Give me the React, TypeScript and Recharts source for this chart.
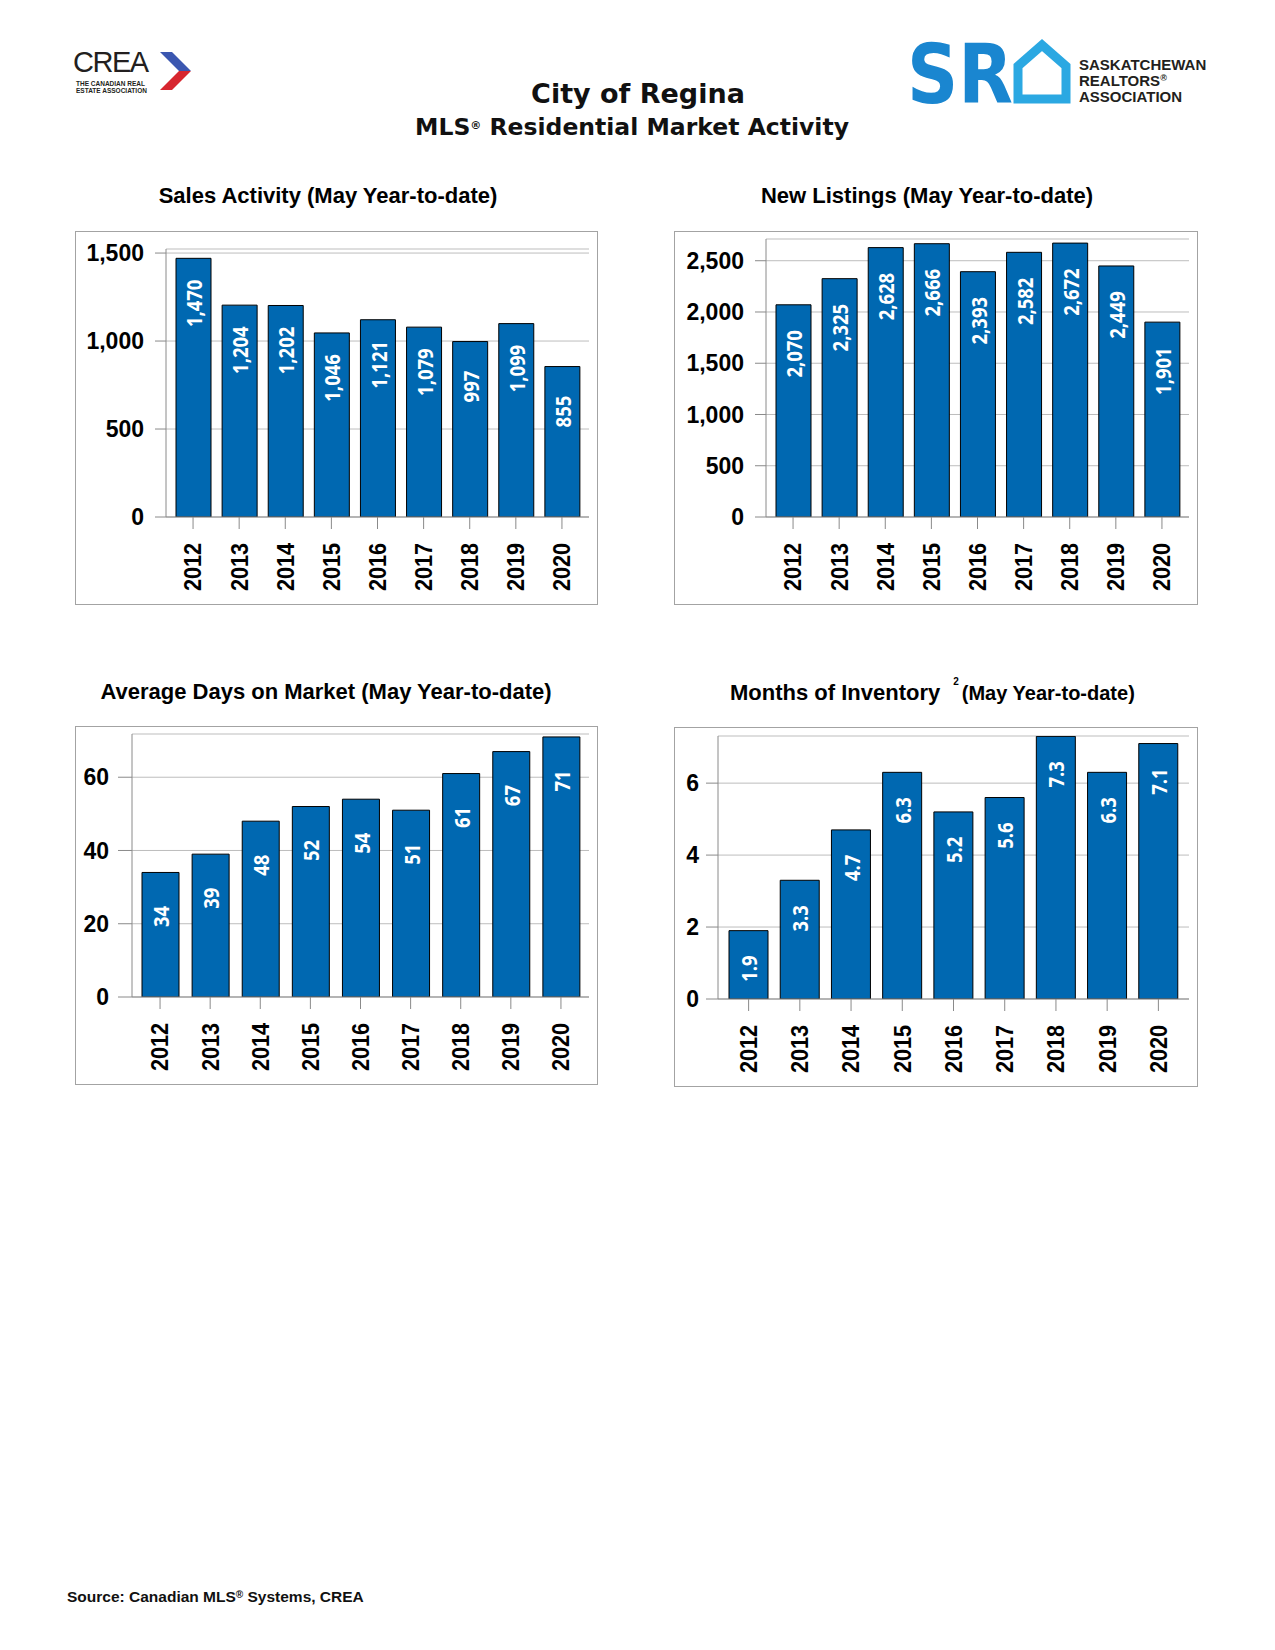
import React from 'react';
import { BarChart, Bar, XAxis, YAxis, CartesianGrid, LabelList } from 'recharts';

// MLS residential market activity, City of Regina, May year-to-date
const years = ['2012', '2013', '2014', '2015', '2016', '2017', '2018', '2019', '2020'];
const salesActivity = [1470, 1204, 1202, 1046, 1121, 1079, 997, 1099, 855];
const newListings = [2070, 2325, 2628, 2666, 2393, 2582, 2672, 2449, 1901];
const daysOnMarket = [34, 39, 48, 52, 54, 51, 61, 67, 71];
const monthsOfInventory = [1.9, 3.3, 4.7, 6.3, 5.2, 5.6, 7.3, 6.3, 7.1];

const salesTicks = [0, 500, 1000, 1500];
const listingsTicks = [0, 500, 1000, 1500, 2000, 2500];
const domTicks = [0, 20, 40, 60];
const moiTicks = [0, 2, 4, 6];

const BAR_FILL = '#0068b1';
const AXIS = '#8a8a8a';
const GRID = '#bdbdbd';
const FRAME = '#a3a3a3';
const SANS = "'Liberation Sans', Arial, sans-serif";
const LABEL_FONT = "'Open Sans', 'Noto Sans', sans-serif";

const thousands = (v: number) => v.toLocaleString('en-US');
const oneDecimal = (v: number) => v.toFixed(1);
const plain = (v: number) => String(v);

const YearTick = (props: any) => {
  const { x, y, payload } = props;
  const s = 0.9;
  return (
    <g transform={`translate(${x},${y})`}>
      <text
        transform={`rotate(-90) scale(${s},1)`}
        x={-14 / s}
        textAnchor="end"
        dominantBaseline="central"
        fontFamily={SANS}
        fontWeight={700}
        fontSize={24}
        fill="#000"
      >
        {payload.value}
      </text>
    </g>
  );
};

const makeBarLabel = (offset: number, fmt: (v: number) => string) => (props: any) => {
  const { x, y, width, value } = props;
  const cx = Number(x) + Number(width) / 2;
  const cy = Number(y) + offset;
  return (
    <text
      transform={`translate(${cx},${cy}) rotate(-90) scale(0.84,1)`}
      textAnchor="middle"
      dominantBaseline="central"
      fill="#fff"
      fontFamily={LABEL_FONT}
      fontWeight={700}
      fontSize={22}
    >
      {fmt(Number(value))}
    </text>
  );
};

interface PanelProps {
  left: number;
  top: number;
  width: number;
  height: number;
  plotTop: number;
  yAxisWidth: number;
  values: number[];
  domain: [number, number];
  ticks: number[];
  tickFmt: (v: number) => string;
  labelFmt: (v: number) => string;
  barSize: number;
  pad: number;
  labelOffset: number;
  yTickSize: number;
  yTickMargin: number;
}

function Panel(p: PanelProps) {
  const rows = years.map((year, i) => ({ year, v: p.values[i] }));
  return (
    <div style={{ position: 'absolute', left: p.left, top: p.top }}>
      <BarChart
        width={p.width}
        height={p.height}
        data={rows}
        margin={{ top: p.plotTop, right: 8, left: 0, bottom: 0 }}
        barSize={p.barSize}
      >
        <CartesianGrid vertical={false} stroke={GRID} />
        <XAxis
          dataKey="year"
          height={87}
          interval={0}
          tickSize={12}
          tickMargin={0}
          padding={{ left: p.pad, right: p.pad }}
          axisLine={{ stroke: AXIS }}
          tickLine={{ stroke: AXIS }}
          tick={(t: any) => <YearTick {...t} />}
        />
        <XAxis
          xAxisId="top"
          dataKey="year"
          orientation="top"
          height={0}
          tick={false}
          tickLine={false}
          axisLine={{ stroke: AXIS }}
        />
        <YAxis
          width={p.yAxisWidth}
          domain={p.domain}
          ticks={p.ticks}
          allowDataOverflow
          tickSize={p.yTickSize}
          tickMargin={p.yTickMargin}
          tickFormatter={p.tickFmt}
          axisLine={{ stroke: AXIS }}
          tickLine={{ stroke: AXIS }}
          tick={{ fontFamily: SANS, fontWeight: 700, fontSize: 23, fill: '#000' }}
        />
        <YAxis
          yAxisId="right"
          orientation="right"
          width={0}
          tick={false}
          tickLine={false}
          axisLine={{ stroke: AXIS }}
        />
        <Bar dataKey="v" fill={BAR_FILL} stroke="#000" strokeWidth={1} isAnimationActive={false}>
          <LabelList dataKey="v" content={makeBarLabel(p.labelOffset, p.labelFmt)} />
        </Bar>
      </BarChart>
    </div>
  );
}

export default function App() {
  return (
    <div
      style={{
        position: 'absolute',
        left: 0,
        top: 0,
        width: 1275,
        height: 1650,
        background: '#fff',
        overflow: 'hidden',
      }}
    >
      <svg width={1275} height={1650} style={{ position: 'absolute', left: 0, top: 0 }}>
        {/* CREA logo */}
        <text x={73} y={72} fontFamily={SANS} fontSize={29} letterSpacing={-1.5} fill="#231f20">
          CREA
        </text>
        <text x={76} y={85.5} fontFamily={SANS} fontSize={6.5} fontWeight={700} fill="#231f20">
          THE CANADIAN REAL
        </text>
        <text x={76} y={93} fontFamily={SANS} fontSize={6.5} fontWeight={700} fill="#231f20">
          ESTATE ASSOCIATION
        </text>
        <polygon points="160,52 172,52 191,71 179,71" fill="#3b57b0" />
        <polygon points="179,71 191,71 172,90 160,90" fill="#d7262f" />

        {/* SRA logo */}
        <text
          x={907}
          y={103}
          fontFamily="'DejaVu Sans', sans-serif"
          fontWeight={700}
          fontSize={82}
          textLength={106}
          lengthAdjust="spacingAndGlyphs"
          fill="#1a86d0"
        >
          SR
        </text>
        <polygon
          points="1018,99 1018,66 1042,45 1066,66 1066,99"
          fill="none"
          stroke="#2ba8e2"
          strokeWidth={9}
          strokeLinejoin="miter"
        />
        <text x={1079} y={70} fontFamily={SANS} fontWeight={700} fontSize={15} fill="#231f20">
          SASKATCHEWAN
        </text>
        <text x={1079} y={86} fontFamily={SANS} fontWeight={700} fontSize={15} fill="#231f20">
          REALTORS
          <tspan fontSize={9} dy={-5}>
            ®
          </tspan>
        </text>
        <text x={1079} y={102} fontFamily={SANS} fontWeight={700} fontSize={15} fill="#231f20">
          ASSOCIATION
        </text>

        {/* page headings */}
        <text
          x={638}
          y={103}
          textAnchor="middle"
          fontFamily="'DejaVu Sans', sans-serif"
          fontWeight={700}
          fontSize={27}
          fill="#111"
        >
          City of Regina
        </text>
        <text
          x={632}
          y={135}
          textAnchor="middle"
          fontFamily="'DejaVu Sans', sans-serif"
          fontWeight={700}
          fontSize={23.5}
          fill="#111"
        >
          MLS
          <tspan fontSize={11} dy={-6}>
            ®
          </tspan>
          <tspan dy={6}> Residential Market Activity</tspan>
        </text>

        {/* chart titles */}
        <text x={328} y={203} textAnchor="middle" fontFamily={SANS} fontWeight={700} fontSize={22}>
          Sales Activity (May Year-to-date)
        </text>
        <text x={927} y={203} textAnchor="middle" fontFamily={SANS} fontWeight={700} fontSize={22}>
          New Listings (May Year-to-date)
        </text>
        <text x={326} y={699} textAnchor="middle" fontFamily={SANS} fontWeight={700} fontSize={22}>
          Average Days on Market (May Year-to-date)
        </text>
        <text x={730} y={700} fontFamily={SANS} fontWeight={700} fontSize={22}>
          Months of Inventory
          <tspan fontSize={10} dx={13} dy={-15}>
            2
          </tspan>
          <tspan fontSize={20} dx={3} dy={15}>
            (May Year-to-date)
          </tspan>
        </text>

        {/* panel frames */}
        <rect x={75.5} y={231.5} width={522} height={373} fill="none" stroke={FRAME} />
        <rect x={674.5} y={231.5} width={523} height={373} fill="none" stroke={FRAME} />
        <rect x={75.5} y={726.5} width={522} height={358} fill="none" stroke={FRAME} />
        <rect x={674.5} y={727.5} width={523} height={359} fill="none" stroke={FRAME} />

        {/* source */}
        <text x={67} y={1602} fontFamily={SANS} fontWeight={700} fontSize={15.5} fill="#111">
          Source: Canadian MLS
          <tspan fontSize={10} dy={-4}>
            ®
          </tspan>
          <tspan dy={4}> Systems, CREA</tspan>
        </text>
      </svg>

      <Panel
        left={75}
        top={231}
        width={522}
        height={373}
        plotTop={18}
        yAxisWidth={91}
        values={salesActivity}
        domain={[0, 1523]}
        ticks={salesTicks}
        tickFmt={thousands}
        labelFmt={thousands}
        barSize={35}
        pad={4}
        labelOffset={45}
        yTickSize={11}
        yTickMargin={11}
      />
      <Panel
        left={674}
        top={231}
        width={523}
        height={373}
        plotTop={8}
        yAxisWidth={92}
        values={newListings}
        domain={[0, 2712]}
        ticks={listingsTicks}
        tickFmt={thousands}
        labelFmt={thousands}
        barSize={35}
        pad={4}
        labelOffset={49}
        yTickSize={11}
        yTickMargin={11}
      />
      <Panel
        left={75}
        top={726}
        width={522}
        height={358}
        plotTop={8}
        yAxisWidth={57}
        values={daysOnMarket}
        domain={[0, 71.8]}
        ticks={domTicks}
        tickFmt={plain}
        labelFmt={plain}
        barSize={37}
        pad={3}
        labelOffset={44}
        yTickSize={14}
        yTickMargin={9}
      />
      <Panel
        left={674}
        top={727}
        width={523}
        height={359}
        plotTop={9}
        yAxisWidth={44}
        values={monthsOfInventory}
        domain={[0, 7.31]}
        ticks={moiTicks}
        tickFmt={plain}
        labelFmt={oneDecimal}
        barSize={39}
        pad={5}
        labelOffset={38}
        yTickSize={12}
        yTickMargin={7}
      />
    </div>
  );
}
